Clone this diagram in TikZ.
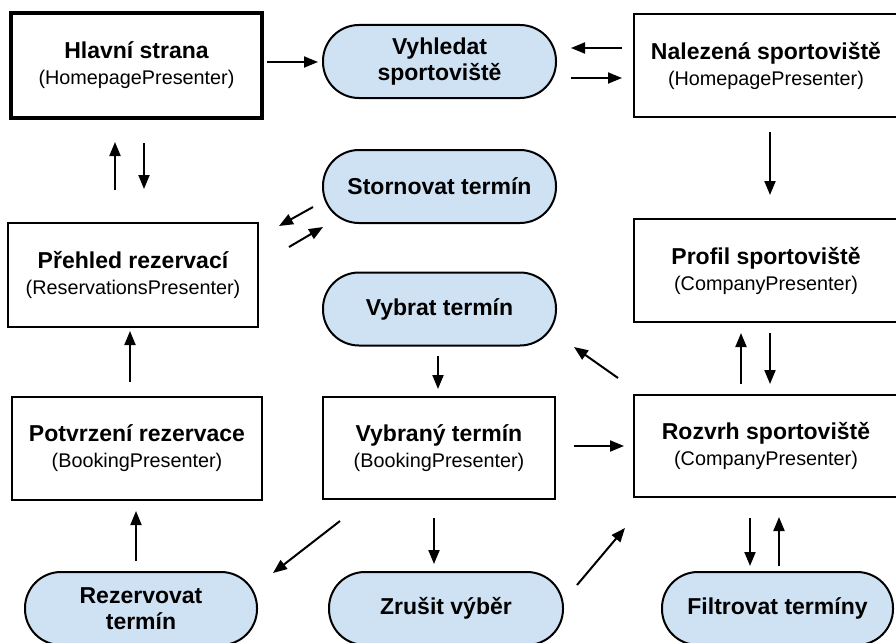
\documentclass[tikz,border=0pt]{standalone}
\usepackage{fontspec}
\setmainfont{Liberation Sans}
\usetikzlibrary{arrows.meta}

\definecolor{pillblue}{HTML}{CFE2F3}

% title line and presenter line of a screen box
\newcommand\screentext[2]{{\bfseries\fontsize{23}{26}\selectfont #1}\\{\fontsize{19.8}{26}\selectfont #2}}

\begin{document}
\begin{tikzpicture}[x=1pt,y=-1pt,
  screen/.style={draw=black, line width=2pt, fill=white, inner sep=0pt,
    align=center, font=\fontsize{20}{26}\selectfont},
  action/.style={draw=black, line width=2pt, fill=pillblue, rounded corners=36pt,
    inner sep=0pt, align=center, font=\bfseries\fontsize{23}{26}\selectfont},
  flow/.style={line width=2pt, -{Triangle[length=14pt,width=11pt]}}
]
\useasboundingbox (0,0) rectangle (896,642);
\clip (0,0) rectangle (896,642);
\fill[white] (0,0) rectangle (896,642);

% screens
\node[screen, line width=4pt, minimum width=251pt, minimum height=105pt] (home) at (136.5,65.5)
  {\screentext{Hlavní strana}{(HomepagePresenter)}};
\node[screen, minimum width=264pt, minimum height=103pt] (found) at (766,65.5)
  {\screentext{Nalezená sportoviště}{(HomepagePresenter)}};
\node[screen, minimum width=250pt, minimum height=104pt] (overview) at (133,275)
  {\screentext{Přehled rezervací}{(ReservationsPresenter)}};
\node[screen, minimum width=264pt, minimum height=103pt] (profile) at (766,270.5)
  {\screentext{Profil sportoviště}{(CompanyPresenter)}};
\node[screen, minimum width=250pt, minimum height=103pt] (confirm) at (137,448.5)
  {\screentext{Potvrzení rezervace}{(BookingPresenter)}};
\node[screen, minimum width=232pt, minimum height=102pt] (chosen) at (439,448)
  {\screentext{Vybraný termín}{(BookingPresenter)}};
\node[screen, minimum width=264pt, minimum height=102pt] (schedule) at (766,446)
  {\screentext{Rozvrh sportoviště}{(CompanyPresenter)}};

% actions
\node[action, minimum width=233pt, minimum height=73pt] (search) at (439.5,61.5)
  {Vyhledat\\sportoviště};
\node[action, minimum width=233pt, minimum height=73pt] (cancel) at (439.5,186.5)
  {Stornovat termín};
\node[action, minimum width=233pt, minimum height=73pt] (pick) at (439.5,309)
  {Vybrat termín};
\node[action, minimum width=232pt, minimum height=73pt] (reserve) at (141,608.5)
  {Rezervovat\\termín};
\node[action, minimum width=234pt, minimum height=73pt] (drop) at (446,608.5)
  {Zrušit výběr};
\node[action, minimum width=231pt, minimum height=73pt] (filter) at (777.5,608.5)
  {Filtrovat termíny};

% free-standing arrow ends
\coordinate (a1s) at (267,62);  \coordinate (a1e) at (318,62);
\coordinate (a2s) at (622,48);  \coordinate (a2e) at (571,48);
\coordinate (a3s) at (571,78);  \coordinate (a3e) at (622,78);
\coordinate (a4s) at (115,190); \coordinate (a4e) at (115,142);
\coordinate (a5s) at (144,143); \coordinate (a5e) at (144,189);
\coordinate (a6s) at (770,132); \coordinate (a6e) at (770,195);
\coordinate (a7s) at (313,207); \coordinate (a7e) at (279,226);
\coordinate (a8s) at (289,247); \coordinate (a8e) at (323,227);
\coordinate (a9s) at (618,378); \coordinate (a9e) at (574,347);
\coordinate (b1s) at (438,356); \coordinate (b1e) at (438,389);
\coordinate (b2s) at (741,384); \coordinate (b2e) at (741,333);
\coordinate (b3s) at (770,333); \coordinate (b3e) at (770,384);
\coordinate (b4s) at (130,382); \coordinate (b4e) at (130,331);
\coordinate (b5s) at (574,446); \coordinate (b5e) at (624,446);
\coordinate (b6s) at (136,561); \coordinate (b6e) at (136,511);
\coordinate (b7s) at (340,521); \coordinate (b7e) at (273,573);
\coordinate (b8s) at (434,518); \coordinate (b8e) at (434,564);
\coordinate (b9s) at (577,585); \coordinate (b9e) at (625,528);
\coordinate (c1s) at (750,518); \coordinate (c1e) at (750,566);
\coordinate (c2s) at (779,566); \coordinate (c2e) at (779,517);

\foreach \a in {a1,a2,a3,a4,a5,a6,a7,a8,a9,b1,b2,b3,b4,b5,b6,b7,b8,b9,c1,c2}
  \draw[flow] (\a s) -- (\a e);
\end{tikzpicture}
\end{document}
